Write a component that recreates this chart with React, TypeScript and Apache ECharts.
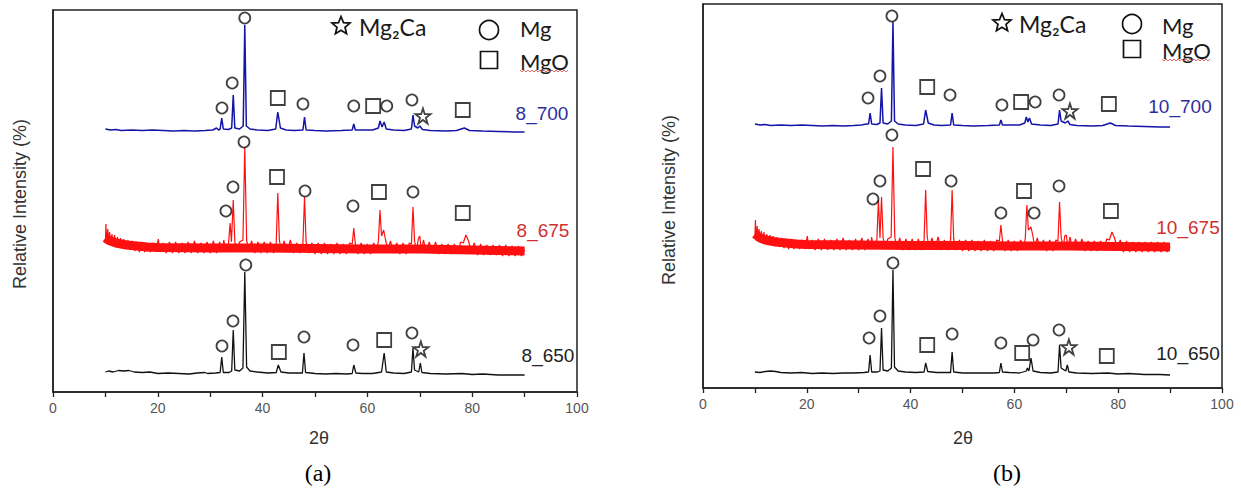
import React, { useEffect, useRef } from "react";
import * as echarts from "echarts";

// ---------- data (2θ, intensity in a.u. with stacking offsets) ----------
const SAMPLES_A = ["8_650", "8_675", "8_700"];
const SAMPLES_B = ["10_650", "10_675", "10_700"];
const PHASES = ["Mg₂Ca", "Mg", "MgO"];
const X_TICKS = [0, 20, 40, 60, 80, 100];
const X_NAME = "2θ";
const Y_NAME = "Relative Intensity (%)";

const A650: number[][] = [
  [10, 20], [10.6, 21], [11.5, 20], [12.5, 21.5], [13.5, 21], [14.5, 21.5], [15.5, 20], [17, 19.5], [18.5, 20], [20, 18.5],
  [22, 19], [24, 18.5], [26, 18], [27.5, 19], [29, 19.5], [29.5, 18.5], [31, 19], [31.9, 19.5], [32.2, 35], [32.5, 19.5],
  [33.6, 19.5], [34.1, 21], [34.4, 62], [34.7, 22], [35.6, 21], [36.25, 24], [36.6, 120], [36.95, 25], [37.6, 21], [39, 20],
  [41, 19], [42.6, 19.5], [43.0, 27], [43.5, 20], [45, 19], [47.6, 19], [47.9, 39], [48.2, 19.5], [50, 18.5], [52, 18],
  [54, 18.5], [56, 18], [57.1, 18.5], [57.4, 27], [57.8, 19], [59, 18.5], [61, 18.5], [62.7, 20], [63.2, 39], [63.6, 20],
  [65, 19], [67, 18.5], [68.4, 20], [68.7, 44], [69.0, 22], [69.8, 20], [70.1, 29], [70.4, 19.5], [72, 18.5], [75, 18],
  [78, 18.5], [80, 17.5], [82, 18], [85, 17], [88, 17], [90, 17],
];
const A675_BAND: number[][] = [
  [10, 154], [10.5, 152], [11, 151], [12, 149], [13, 148], [14, 147], [16, 146], [18, 145], [20, 144.5], [30, 144], [40, 144],
  [50, 143.5], [60, 143], [70, 143], [80, 142], [90, 141],
];
const A675: number[][] = [
  [10, 150], [10.1, 168], [10.25, 148], [10.45, 163], [10.6, 149], [10.8, 160], [11.0, 147], [11.25, 158], [11.5, 147], [11.75, 157],
  [12.0, 145], [12.3, 155], [12.6, 145], [12.9, 154], [13.2, 144], [13.5, 153], [13.9, 143], [14.3, 152], [14.7, 142], [15.1, 151],
  [15.6, 141], [16.0, 150], [16.5, 140], [17.0, 150], [17.5, 140], [18.0, 149], [18.6, 140], [19.1, 149], [19.6, 140], [20.1, 153],
  [20.4, 140], [21.0, 149], [21.6, 139], [22.2, 150], [22.8, 139], [23.4, 150], [24.0, 139], [24.6, 149], [25.2, 139], [25.8, 150],
  [26.4, 139], [27.0, 151], [27.6, 139], [28.2, 149], [28.8, 139], [29.4, 150], [30.0, 139], [30.6, 151], [31.2, 139], [31.8, 150],
  [32.3, 140], [32.6, 152], [33.0, 140], [33.5, 149], [33.8, 169], [34.05, 150], [34.4, 192], [34.7, 150], [35.1, 141], [35.6, 150],
  [36.25, 152], [36.6, 245], [36.95, 152], [37.4, 141], [37.9, 151], [38.5, 139], [39.1, 150], [39.7, 139], [40.3, 150], [40.9, 139],
  [41.5, 150], [42.1, 139], [42.6, 149], [42.9, 199], [43.2, 152], [43.6, 141], [44.1, 151], [44.7, 140], [45.3, 152], [45.9, 139],
  [46.5, 149], [47.1, 139], [47.7, 149], [48.0, 195], [48.3, 150], [48.8, 139], [49.4, 149], [50.0, 138], [50.6, 149], [51.2, 138],
  [51.8, 149], [52.4, 138], [53.0, 148], [53.6, 138], [54.2, 149], [54.8, 138], [55.4, 148], [56.0, 138], [56.6, 149], [57.1, 148],
  [57.4, 164], [57.7, 148], [58.2, 138], [58.8, 149], [59.4, 138], [60.0, 148], [60.6, 138], [61.2, 149], [61.8, 141], [62.1, 151],
  [62.4, 182], [62.7, 156], [63.1, 162], [63.5, 151], [63.9, 142], [64.4, 151], [65.0, 139], [65.6, 149], [66.2, 138], [66.8, 149],
  [67.4, 138], [68.0, 149], [68.4, 148], [68.7, 185], [69.0, 151], [69.4, 141], [69.7, 153], [70.0, 156], [70.3, 141], [70.7, 152],
  [71.2, 140], [71.8, 150], [72.4, 139], [73.0, 150], [73.6, 138], [74.2, 148], [74.8, 138], [75.4, 148], [76.0, 138], [76.6, 148],
  [77.2, 139], [77.8, 150], [78.3, 149], [78.8, 157], [79.3, 151], [79.8, 141], [80.4, 149], [81.0, 137], [81.6, 148], [82.2, 137],
  [82.8, 147], [83.4, 137], [84.0, 147], [84.6, 137], [85.2, 147], [85.8, 136], [86.4, 147], [87.0, 136], [87.6, 146], [88.2, 136],
  [88.8, 146], [89.4, 136], [90, 142],
];
const A700: number[][] = [
  [10, 263], [11, 262], [12, 262.5], [13, 261.5], [15, 262], [17, 261.5], [19, 262], [21, 261.5], [23, 261], [25, 261.5],
  [27, 261], [29, 261.5], [30.5, 262], [31.2, 264], [31.6, 262], [31.9, 263], [32.2, 274], [32.5, 263], [33.5, 262.5], [34.1, 264],
  [34.4, 297], [34.7, 264], [35.6, 263], [36.3, 266], [36.6, 367], [36.9, 266], [37.6, 263], [39, 262], [41, 261.5], [42.5, 263],
  [42.9, 280], [43.4, 264], [44.5, 262], [46, 261.5], [47.7, 262], [48.0, 275], [48.3, 262], [50, 261.5], [52, 261], [55, 261.5],
  [57.1, 262], [57.4, 268], [57.7, 262], [59, 262], [61, 262], [62.1, 264], [62.4, 271], [62.8, 265], [63.2, 270], [63.6, 263],
  [65, 262], [67, 261.5], [68.4, 263], [68.7, 277], [69.0, 266], [69.6, 264], [70.0, 266], [70.5, 262.5], [72, 261.5], [75, 261],
  [77, 261.5], [78.5, 264], [79.5, 261.5], [82, 261], [85, 260.5], [88, 260], [90, 260],
];

const B650: number[][] = [
  [10, 16], [11, 15.5], [12, 16.5], [13, 17], [14, 16.5], [15, 15.5], [17, 15], [19, 15.5], [21, 14.5], [23, 15],
  [25, 14.5], [27, 15], [29, 15], [31, 15.5], [31.9, 16], [32.2, 33], [32.5, 16], [33.6, 16], [34.1, 17], [34.4, 60],
  [34.7, 18], [35.6, 17], [36.3, 20], [36.6, 118], [36.9, 21], [37.6, 17], [39, 16], [41, 15.5], [42.6, 16], [42.9, 25],
  [43.3, 16.5], [45, 15.5], [47.7, 15.5], [48.0, 36], [48.3, 16], [50, 15], [53, 15], [56, 15], [57.1, 15.5], [57.4, 25],
  [57.7, 16], [59, 15.5], [61, 15], [62.3, 17], [62.5, 20], [62.8, 17], [63.2, 30], [63.6, 17], [65, 15.5], [67, 15],
  [68.4, 16], [68.7, 43], [69.0, 20], [69.9, 17], [70.2, 23], [70.5, 16], [72, 15], [75, 14.5], [78, 15], [80, 14],
  [82, 14.5], [85, 13.5], [88, 13.5], [90, 13],
];
const B675_BAND: number[][] = [
  [10, 154], [10.5, 152], [11, 150], [12, 148], [13, 147], [14, 146], [16, 145], [18, 144], [20, 143.5], [30, 143], [40, 142.5],
  [50, 142.5], [60, 142], [70, 142], [80, 141.5], [90, 141],
];
const B675: number[][] = [
  [10, 150], [10.1, 168], [10.25, 147], [10.45, 162], [10.6, 148], [10.8, 159], [11.0, 146], [11.25, 157], [11.5, 146], [11.75, 156],
  [12.0, 144], [12.3, 154], [12.6, 144], [12.9, 153], [13.2, 143], [13.5, 152], [13.9, 142], [14.3, 151], [14.7, 141], [15.1, 150],
  [15.6, 140], [16.0, 149], [16.5, 139], [17.0, 149], [17.5, 139], [18.0, 148], [18.6, 139], [19.1, 148], [19.6, 139], [20.1, 152],
  [20.4, 139], [21.0, 148], [21.6, 138], [22.2, 149], [22.8, 138], [23.4, 149], [24.0, 138], [24.6, 148], [25.2, 138], [25.8, 149],
  [26.4, 138], [27.0, 150], [27.6, 138], [28.2, 148], [28.8, 138], [29.4, 149], [30.0, 138], [30.6, 150], [31.2, 138], [31.8, 149],
  [32.3, 139], [32.5, 151], [32.8, 140], [33.5, 148], [33.8, 188], [34.1, 150], [34.4, 191], [34.7, 150], [35.1, 140], [35.6, 149],
  [36.25, 151], [36.6, 241], [36.95, 151], [37.4, 140], [37.9, 150], [38.5, 138], [39.1, 149], [39.7, 138], [40.3, 149], [40.9, 138],
  [41.5, 149], [42.1, 138], [42.6, 148], [42.9, 198], [43.2, 151], [43.6, 140], [44.1, 150], [44.7, 139], [45.3, 151], [45.9, 138],
  [46.5, 148], [47.1, 138], [47.7, 148], [48.0, 198], [48.3, 149], [48.8, 138], [49.4, 148], [50.0, 137], [50.6, 148], [51.2, 137],
  [51.8, 148], [52.4, 137], [53.0, 147], [53.6, 137], [54.2, 148], [54.8, 137], [55.4, 147], [56.0, 137], [56.6, 148], [57.1, 147],
  [57.4, 163], [57.7, 147], [58.2, 137], [58.8, 148], [59.4, 137], [60.0, 147], [60.6, 137], [61.2, 148], [61.8, 140], [62.1, 150],
  [62.4, 183], [62.7, 158], [63.2, 161], [63.6, 151], [63.9, 141], [64.4, 150], [65.0, 138], [65.6, 148], [66.2, 137], [66.8, 148],
  [67.4, 137], [68.0, 148], [68.4, 147], [68.7, 186], [69.0, 151], [69.4, 140], [69.7, 152], [70.0, 153], [70.3, 140], [70.7, 151],
  [71.2, 139], [71.8, 149], [72.4, 138], [73.0, 149], [73.6, 137], [74.2, 147], [74.8, 137], [75.4, 147], [76.0, 137], [76.6, 147],
  [77.2, 138], [77.8, 149], [78.3, 148], [78.8, 156], [79.3, 150], [79.8, 140], [80.4, 148], [81.0, 136], [81.6, 147], [82.2, 136],
  [82.8, 146], [83.4, 136], [84.0, 146], [84.6, 136], [85.2, 146], [85.8, 136], [86.4, 146], [87.0, 136], [87.6, 146], [88.2, 136],
  [88.8, 146], [89.4, 136], [90, 141],
];
const B700: number[][] = [
  [10, 264], [11, 263], [12, 263.5], [13, 262.5], [15, 263], [17, 262.5], [19, 263], [21, 262.5], [23, 262], [25, 262.5],
  [27, 262], [29, 262.5], [30.5, 263], [31.5, 264], [31.9, 264], [32.2, 275], [32.5, 264], [33.5, 263.5], [34.1, 265], [34.4, 300],
  [34.7, 265], [35.6, 264], [36.3, 267], [36.6, 366], [36.9, 267], [37.6, 264], [39, 263], [41, 262.5], [42.5, 264], [42.9, 278],
  [43.4, 265], [44.5, 263], [46, 262.5], [47.7, 263], [48.0, 275], [48.3, 263], [50, 262.5], [52, 262], [55, 262.5], [57.1, 263],
  [57.4, 268], [57.7, 263], [59, 263], [61, 263], [62.0, 265], [62.3, 271], [62.6, 266], [62.9, 270], [63.3, 264], [65, 263],
  [67, 262.5], [68.4, 264], [68.7, 278], [69.0, 267], [69.8, 265], [70.3, 267], [70.7, 263.5], [72, 262.5], [75, 262], [77, 262.5],
  [78.5, 265], [79.5, 262.5], [82, 262], [85, 261.5], [88, 261], [90, 261],
];

// phase markers [2θ, height]
const A_CIRCLES: number[][] = [
  [32.25, 46], [34.35, 71], [36.8, 127], [47.9, 55], [57.25, 47], [68.5, 59],
  [33.0, 181], [34.35, 205], [36.45, 250], [48.1, 201], [57.25, 186], [68.7, 200],
  [32.25, 284], [34.2, 309], [36.6, 374], [47.7, 288], [57.4, 286], [63.7, 286], [68.5, 292],
];
const A_SQUARES: number[][] = [
  [43.1, 40], [63.2, 52], [42.75, 215], [62.2, 200], [78.2, 179], [42.9, 294], [61.1, 286], [78.2, 282],
];
const A_STARS: number[][] = [[70.2, 43], [70.6, 276]];

const B_CIRCLES: number[][] = [
  [32.0, 50], [34.1, 72], [36.6, 125], [48.0, 54], [57.4, 45], [63.6, 48], [68.6, 58],
  [32.75, 189], [34.1, 207], [36.4, 253], [47.8, 207], [57.4, 175], [63.8, 175], [68.6, 202],
  [31.8, 290], [34.1, 312], [36.4, 372], [47.6, 293], [57.6, 283], [64.0, 286], [68.6, 293],
];
const B_SQUARES: number[][] = [
  [43.2, 43], [61.5, 35], [77.8, 32], [42.4, 219], [61.85, 197], [78.6, 177], [43.2, 301], [61.3, 286], [78.2, 284],
];
const B_STARS: number[][] = [[70.5, 41], [70.7, 277]];

// ---------- styling ----------
const BLACK = "#111111";
const RED = "#ff1010";
const BLUE = "#1414a8";
const SANS = "Liberation Sans";
const STAR_PATH =
  "path://M50,3 L61.5,37.5 L98,37.5 L68.5,59 L79.5,94 L50,72.5 L20.5,94 L31.5,59 L2,37.5 L38.5,37.5 Z";

function starPoints(cx: number, cy: number, R: number, r: number): number[][] {
  const pts: number[][] = [];
  for (let i = 0; i < 10; i++) {
    const a = -Math.PI / 2 + (i * Math.PI) / 5;
    const rad = i % 2 === 0 ? R : r;
    pts.push([cx + rad * Math.cos(a), cy + rad * Math.sin(a)]);
  }
  return pts;
}

function wavy(x0: number, x1: number, y: number): number[][] {
  const pts: number[][] = [];
  let up = true;
  for (let x = x0; x <= x1; x += 2) {
    pts.push([x, y + (up ? -1 : 1)]);
    up = !up;
  }
  return pts;
}

function txt(text: string, x: number, y: number, fontSize: number, fontFamily: string, fill: string, align = "left", rotation = 0) {
  return {
    type: "text",
    x,
    y,
    rotation,
    style: { text, fontSize, fontFamily, fill, align, verticalAlign: "middle", textAlign: align, textVerticalAlign: "middle" },
  };
}

function legend(sx: number, sy: number, tx: number, cx: number, cy: number, mx: number, my: number, qy: number) {
  const font = "Lato";
  return [
    { type: "polygon", shape: { points: starPoints(sx, sy, 9.5, 4.2) }, style: { fill: "none", stroke: "#111", lineWidth: 1.7 } },
    txt(PHASES[0], tx, sy + 1, 23, font, "#1a1a1a"),
    { type: "circle", shape: { cx, cy, r: 9.5 }, style: { fill: "none", stroke: "#111", lineWidth: 1.7 } },
    txt(PHASES[1], mx, my, 22, font, "#1a1a1a"),
    { type: "rect", shape: { x: cx - 8.5, y: qy - 8.5, width: 17, height: 17 }, style: { fill: "none", stroke: "#111", lineWidth: 1.7 } },
    txt(PHASES[2], mx, qy + 1, 22, font, "#1a1a1a"),
    { type: "polyline", shape: { points: wavy(mx, mx + 48, qy + 11) }, style: { stroke: "#d44", lineWidth: 0.8, fill: "none" } },
  ];
}

function xAxisOpt(gridIndex: number) {
  return {
    type: "value",
    gridIndex,
    min: 0,
    max: 100,
    interval: 10,
    axisLine: { show: true, lineStyle: { color: "#222", width: 1.5 } },
    axisTick: { show: true, inside: false, length: 5, lineStyle: { color: "#222", width: 1.3 } },
    axisLabel: {
      fontSize: 14,
      color: "#555",
      margin: 9,
      fontFamily: SANS,
      formatter: (v: number) => (X_TICKS.indexOf(v) >= 0 ? String(v) : ""),
    },
    splitLine: { show: false },
  };
}

function yAxisOpt(gridIndex: number, max: number) {
  return {
    type: "value",
    gridIndex,
    min: 0,
    max,
    axisLine: { show: true, lineStyle: { color: "#222", width: 1.5 } },
    axisTick: { show: false },
    axisLabel: { show: false },
    splitLine: { show: false },
  };
}

function lineSeries(data: number[][], idx: number, color: string, width: number, z: number) {
  return {
    type: "line",
    data,
    xAxisIndex: idx,
    yAxisIndex: idx,
    showSymbol: false,
    symbol: "none",
    silent: true,
    lineStyle: { color, width },
    itemStyle: { color },
    z,
  };
}

function markerSeries(data: number[][], idx: number, symbol: string, size: number) {
  return {
    type: "scatter",
    data,
    xAxisIndex: idx,
    yAxisIndex: idx,
    symbol,
    symbolSize: size,
    silent: true,
    itemStyle: { color: "rgba(255,255,255,0)", borderColor: "#111", borderWidth: 1.8 },
    z: 10,
  };
}

export default function App() {
  const ref = useRef<HTMLDivElement>(null);
  useEffect(() => {
    if (!ref.current) return;
    const chart = echarts.init(ref.current, undefined, { renderer: "svg" });
    chart.setOption({
      animation: false,
      backgroundColor: "#ffffff",
      grid: [
        { left: 53, top: 10, width: 524, height: 382, show: true, borderColor: "#222", borderWidth: 1.5, backgroundColor: "transparent" },
        { left: 703, top: 4, width: 519, height: 384, show: true, borderColor: "#222", borderWidth: 1.5, backgroundColor: "transparent" },
      ],
      xAxis: [xAxisOpt(0), xAxisOpt(1)],
      yAxis: [yAxisOpt(0, 382), yAxisOpt(1, 384)],
      series: [
        lineSeries(A650, 0, BLACK, 1.3, 3),
        lineSeries(A675_BAND, 0, RED, 9, 2),
        lineSeries(A675, 0, RED, 1.2, 3),
        lineSeries(A700, 0, BLUE, 1.5, 3),
        lineSeries(B650, 1, BLACK, 1.3, 3),
        lineSeries(B675_BAND, 1, RED, 9, 2),
        lineSeries(B675, 1, RED, 1.2, 3),
        lineSeries(B700, 1, BLUE, 1.5, 3),
        markerSeries(A_CIRCLES, 0, "circle", 11),
        markerSeries(A_SQUARES, 0, "rect", 14),
        markerSeries(A_STARS, 0, STAR_PATH, 15),
        markerSeries(B_CIRCLES, 1, "circle", 11),
        markerSeries(B_SQUARES, 1, "rect", 14),
        markerSeries(B_STARS, 1, STAR_PATH, 15),
      ],
      graphic: [
        ...legend(341, 26, 359, 489, 30, 520, 28, 60),
        ...legend(1002, 23, 1019, 1132, 24, 1162, 25, 49),
        txt(SAMPLES_A[2], 542, 113, 19, SANS, "#2e2ea0", "center"),
        txt(SAMPLES_A[1], 543, 230, 19, SANS, "#d23030", "center"),
        txt(SAMPLES_A[0], 548, 355, 19, SANS, "#222", "center"),
        txt(SAMPLES_B[2], 1180, 106, 19, SANS, "#2e2ea0", "center"),
        txt(SAMPLES_B[1], 1188, 227, 19, SANS, "#d23030", "center"),
        txt(SAMPLES_B[0], 1188, 353, 19, SANS, "#222", "center"),
        txt(Y_NAME, 20, 204, 18, SANS, "#333", "center", Math.PI / 2),
        txt(Y_NAME, 669, 200, 18, SANS, "#333", "center", Math.PI / 2),
        txt(X_NAME, 319, 438, 18, SANS, "#333", "center"),
        txt(X_NAME, 963, 438, 18, SANS, "#333", "center"),
        txt("(a)", 318, 473, 24, "Liberation Serif", "#000", "center"),
        txt("(b)", 1007, 473, 24, "Liberation Serif", "#000", "center"),
      ],
    });
    return () => chart.dispose();
  }, []);
  return (
    <div
      ref={ref}
      style={{ position: "fixed", left: 0, top: 0, width: 1241, height: 489, background: "#fff" }}
    />
  );
}
